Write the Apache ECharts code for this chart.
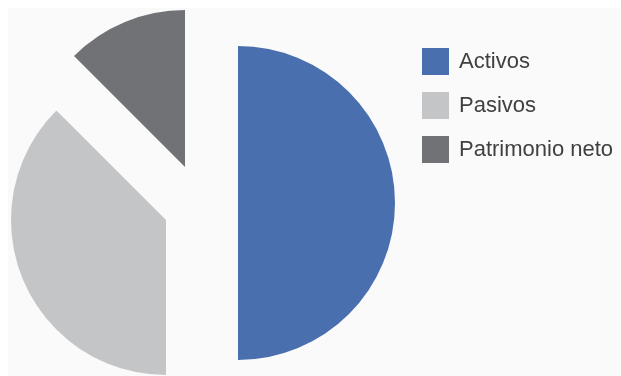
<!DOCTYPE html>
<html>
<head>
<meta charset="utf-8">
<script src="https://cdn.jsdelivr.net/npm/echarts@6/dist/echarts.min.js"></script>
<style>
  html, body { margin: 0; padding: 0; background: #fff; }
  #main { width: 621px; height: 376px; }
</style>
</head>
<body>
<div id="main"></div>
<script>
const chart = echarts.init(document.getElementById('main'))

const categories = ['Activos', 'Pasivos', 'Patrimonio neto']
const values = [50, 37.5, 12.5]
const colors = ['#4a6fae', '#c4c5c7', '#717276']

// each slice is pulled out on its own, so one pie per slice
const centers = [[238, 203], [166, 220], [185, 167]]
const radii = [157, 155, 157]

const series = categories.map((name, i) => {
  return {
    name: name,
    type: 'pie',
    center: centers[i],
    radius: radii[i],
    startAngle: 90,
    clockwise: true,
    silent: true,
    label: { show: false },
    labelLine: { show: false },
    emphasis: { disabled: true },
    data: categories.map((n, j) => ({
      name: n,
      value: values[j],
      itemStyle: { color: j === i ? colors[j] : 'rgba(0,0,0,0)' }
    }))
  }
})

const option = {
  animation: false,
  backgroundColor: '#ffffff',
  graphic: [{
    type: 'rect',
    z: -10,
    silent: true,
    shape: { x: 8, y: 8, width: 613, height: 368 },
    style: { fill: '#fafafa' }
  }],
  legend: {
    orient: 'vertical',
    left: 417,
    top: 43,
    itemWidth: 27,
    itemHeight: 27,
    itemGap: 17,
    icon: 'rect',
    selectedMode: false,
    textStyle: {
      color: '#404040',
      fontSize: 22,
      fontFamily: 'Liberation Sans, Arial, sans-serif',
      padding: [0, 0, 0, 5]
    },
    data: categories.map((n, i) => ({ name: n, itemStyle: { color: colors[i] } }))
  },
  series: series
}

chart.setOption(option)
</script>
</body>
</html>
